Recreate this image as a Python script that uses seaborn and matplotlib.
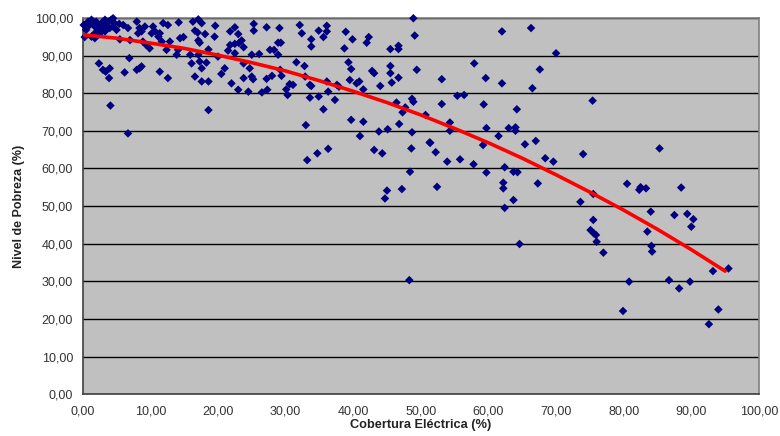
import numpy as np
import pandas as pd
import matplotlib
matplotlib.use('Agg')
import matplotlib.pyplot as plt
from matplotlib.ticker import FuncFormatter, MultipleLocator
import seaborn as sns

#electric coverage (%) per municipality
cobertura = [
    0.15, 0.3, 1.3, 1.5, 1.8, 2.0, 2.3, 2.5, 2.8, 3.0, 3.3, 3.5, 3.8, 4.2, 4.5, 4.7, 5.0, 5.4, 5.5, 6.7,
    7.0, 8.0, 8.2, 8.4, 8.7, 8.9, 9.2, 9.4, 9.9, 10.2, 10.4, 10.7, 11.2, 11.4, 11.7, 11.9,
    1.0, 0.5, 1.8, 2.8, 4.0, 6.0, 0.8, 3.3, 4.5, 2.5, 1.3, 1.8,
    2.4, 3.0, 3.4, 4.0, 3.9, 6.2, 6.9, 8.0, 8.4, 8.7, 11.4, 4.1, 6.7,
    18.6, 23.0, 24.5,
    12.6, 14.2, 16.3, 17.1, 17.6, 16.6, 17.0, 18.1, 19.6, 14.4, 14.9, 12.9, 17.1, 17.3, 19.5, 21.8,
    22.5, 23.0, 21.8, 22.5, 23.1, 23.5, 23.8, 12.4, 14.1, 13.9, 15.9, 17.1, 18.6, 20.0, 21.5, 22.5,
    23.8, 16.1, 17.3, 18.3, 17.6, 21.0, 20.5, 12.6, 16.6, 17.6, 18.6, 22.0, 23.8,
    25.3, 25.3, 27.2, 29.1, 32.1, 32.4, 33.8, 33.8, 34.9, 35.6, 36.1, 36.1, 38.9, 39.9, 38.7, 42.3,
    42.0, 45.5, 46.7, 46.7, 48.9, 49.1, 25.0, 26.1, 27.7, 28.3, 28.9, 29.3, 28.9, 24.7, 25.0, 25.2,
    27.2, 28.0, 29.2, 29.4, 31.6, 32.8, 32.9, 33.6, 33.8, 36.1, 37.6, 37.9, 39.3, 39.7, 39.5, 40.5,
    40.9, 41.5, 42.8, 43.1, 44.0, 45.5, 45.5, 45.7, 46.7, 49.4, 26.5, 27.3, 30.1, 30.6, 31.1, 30.3,
    33.6, 34.9, 36.3, 35.6, 37.3, 46.4, 48.7, 48.9, 47.3, 46.8, 47.7, 33.0, 39.7, 41.5, 41.0, 43.8,
    45.1, 48.7, 51.3, 33.2, 34.7, 36.3, 43.1, 44.3, 48.6, 48.4, 45.0, 47.2, 44.7,
    62.0, 66.3, 70.0, 57.9, 67.6, 53.1, 59.6, 62.0, 66.5, 55.4, 56.4, 53.1, 59.3, 64.2, 50.7, 54.3,
    54.3, 59.7, 63.0, 64.0, 64.0, 61.5, 51.4, 52.2, 53.9, 55.8, 57.8, 59.2, 65.4, 67.0, 68.4, 69.6,
    62.4, 59.7, 63.7, 64.3, 67.3, 62.2, 62.2, 52.4, 63.7,
    48.3, 64.6, 62.4,
    75.4, 74.0, 85.3, 80.5, 82.3, 82.5, 83.3, 88.5, 75.5, 73.6, 84.0, 87.5, 89.4, 90.3, 90.0, 75.5,
    75.1, 75.6, 75.9, 76.0, 83.5, 84.1, 84.2, 77.0, 93.2, 95.5, 80.8, 86.7, 88.2, 89.8, 79.9, 94.0,
    92.6,
]

#poverty level (%) for the same points
pobreza = [
    98.1, 94.9, 99.5, 98.6, 97.7, 99.0, 98.1, 96.8, 98.6, 97.3, 96.4, 98.4, 99.0, 99.5, 97.7, 98.6, 96.8, 98.4, 94.3, 97.3,
    94.1, 99.0, 95.9, 97.3, 96.4, 93.7, 97.7, 92.8, 91.9, 95.9, 97.7, 96.4, 95.0, 95.9, 93.7, 98.6,
    98.1, 96.8, 95.9, 96.4, 97.3, 98.1, 99.0, 99.5, 99.9, 95.9, 95.0, 94.6,
    87.9, 86.2, 85.7, 86.6, 84.0, 85.5, 89.3, 86.2, 86.6, 87.1, 85.7, 76.7, 69.3,
    75.5, 80.9, 80.4,
    98.1, 98.8, 99.0, 99.6, 98.6, 96.6, 96.1, 95.7, 97.9, 94.6, 94.9, 93.7, 94.0, 93.4, 95.0, 96.4,
    97.5, 95.7, 92.8, 93.1, 93.3, 94.0, 92.2, 91.5, 91.5, 90.2, 90.2, 90.2, 91.6, 89.7, 91.3, 90.6,
    87.9, 87.9, 88.4, 88.1, 86.6, 86.6, 85.1, 84.0, 84.4, 83.1, 83.1, 82.6, 84.0,
    98.4, 96.6, 97.5, 97.3, 98.1, 95.9, 94.3, 92.4, 96.6, 94.9, 97.9, 96.4, 96.3, 94.3, 91.9, 94.9,
    93.4, 91.7, 92.6, 91.7, 99.9, 95.3, 90.2, 90.4, 91.5, 91.5, 93.4, 93.4, 90.2, 86.6, 84.4, 83.7,
    83.8, 84.6, 86.2, 84.6, 88.2, 87.2, 84.4, 82.2, 81.9, 83.1, 82.2, 81.7, 88.2, 86.4, 83.5, 82.6,
    83.1, 81.0, 85.9, 85.3, 81.9, 87.2, 85.3, 82.8, 84.1, 86.2, 80.2, 80.9, 81.0, 82.4, 82.2, 79.5,
    78.8, 79.1, 80.4, 75.7, 78.2, 77.5, 78.5, 77.7, 74.9, 71.8, 76.2, 71.5, 72.9, 72.4, 68.6, 69.8,
    70.4, 69.6, 66.9, 62.2, 64.0, 65.2, 64.9, 64.0, 65.3, 59.1, 54.1, 54.5, 52.0,
    96.4, 97.3, 90.6, 87.9, 86.3, 83.7, 84.0, 82.6, 81.3, 79.3, 79.5, 77.1, 77.0, 75.7, 74.2, 72.2,
    70.0, 70.7, 70.7, 70.9, 70.0, 68.6, 66.8, 64.3, 61.8, 62.4, 61.1, 66.2, 66.4, 67.3, 62.7, 61.8,
    60.3, 58.9, 59.1, 59.0, 56.0, 56.2, 54.7, 55.1, 51.6,
    30.3, 39.9, 49.5,
    78.0, 63.8, 65.3, 55.9, 54.3, 55.0, 54.7, 54.9, 53.2, 51.1, 48.5, 47.6, 47.9, 46.5, 44.5, 46.3,
    43.6, 42.7, 42.3, 40.5, 43.2, 39.4, 37.9, 37.6, 32.7, 33.4, 29.9, 30.3, 28.1, 29.9, 22.1, 22.5,
    18.6,
]

#trend curve (polynomial trend line)
tend_x = [0, 5, 10, 15, 20, 25, 30, 35, 40, 45, 50, 55, 60, 65, 70, 75, 80, 85, 90, 95]
tend_y = [95.5, 94.6, 93.3, 91.9, 90.1, 88.1, 85.9, 83.3, 80.5, 77.5, 74.2, 70.6, 66.8, 62.7, 58.3,
          53.7, 48.9, 43.8, 38.4, 32.7]

df = pd.DataFrame({'cobertura': cobertura, 'pobreza': pobreza})
tend = pd.DataFrame({'x': tend_x, 'y': tend_y})

sns.set_style('white')
plt.rcParams['font.family'] = ['Liberation Sans', 'DejaVu Sans']

fig = plt.figure(figsize=(7.8, 4.36), dpi=100)
ax = fig.add_axes([0.106, 0.096, 0.867, 0.863])
ax.set_facecolor('#c0c0c0')

sns.scatterplot(x='cobertura', y='pobreza', data=df, marker='D', s=19, color='#000080',
                edgecolor='none', ax=ax, zorder=3, clip_on=False)
sns.lineplot(x='x', y='y', data=tend, color='#ff0000', linewidth=2.6, ax=ax, zorder=4, sort=True)

ax.set_xlim(0, 100)
ax.set_ylim(0, 100)
ax.xaxis.set_major_locator(MultipleLocator(10))
ax.yaxis.set_major_locator(MultipleLocator(10))
fmt = FuncFormatter(lambda v, p: f'{v:.2f}'.replace('.', ','))
ax.xaxis.set_major_formatter(fmt)
ax.yaxis.set_major_formatter(fmt)

ax.grid(axis='y', color='#000000', linewidth=1.0)
ax.grid(axis='x', visible=False)
ax.set_axisbelow(True)

for side in ['top', 'right']:
    ax.spines[side].set_color('#808080')
    ax.spines[side].set_linewidth(1.2)
for side in ['left', 'bottom']:
    ax.spines[side].set_color('#404040')
    ax.spines[side].set_linewidth(1.2)

ax.tick_params(axis='both', direction='out', length=4, width=1, color='#404040',
               labelsize=9, labelcolor='#333333', pad=3)
ax.tick_params(axis='x', pad=4)

ax.set_xlabel('Cobertura Eléctrica (%)', fontsize=9.2, fontweight='bold', color='#222222', labelpad=1)
ax.set_ylabel('Nivel de Pobreza (%)', fontsize=9, fontweight='bold', color='#222222', labelpad=7)

fig.savefig('out.png', dpi=100)
